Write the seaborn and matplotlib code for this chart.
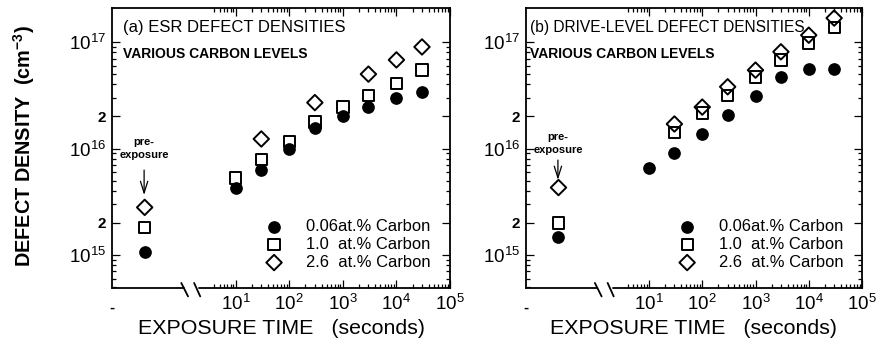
import numpy as np
import pandas as pd
import matplotlib
matplotlib.use("Agg")
import matplotlib.pyplot as plt
import seaborn as sns
from matplotlib.ticker import FixedLocator, NullFormatter

# ---------------- data ----------------
times = [10, 30, 100, 300, 1000, 3000, 10000, 30000]

# panel (a) ESR defect densities (cm^-3); None = not plotted
esr_c006 = [4.3e15, 6.3e15, 1.0e16, 1.55e16, 2.0e16, 2.45e16, 2.97e16, 3.4e16]
esr_c10 = [5.3e15, 7.9e15, 1.17e16, 1.78e16, 2.45e16, 3.17e16, 4.1e16, 5.45e16]
esr_c26 = [None, 1.23e16, None, 2.7e16, None, 5.0e16, 6.8e16, 9.0e16]
esr_pre = [1.07e15, 1.8e15, 2.8e15]   # 0.06, 1.0, 2.6 at.%

# panel (b) drive-level defect densities
drv_c006 = [6.6e15, 9.1e15, 1.37e16, 2.06e16, 3.1e16, 4.7e16, 5.6e16, 5.6e16]
drv_c10 = [None, 1.42e16, 2.15e16, 3.17e16, 4.7e16, 6.8e16, 9.8e16, 1.38e17]
drv_c26 = [None, 1.7e16, 2.45e16, 3.8e16, 5.45e16, 8.1e16, 1.16e17, 1.68e17]
drv_pre = [1.47e15, 2.0e15, 4.3e15]

series_labels = ["0.06at.% Carbon", "1.0  at.% Carbon", "2.6  at.% Carbon"]
panel_titles = ["(a) ESR DEFECT DENSITIES", "(b) DRIVE-LEVEL DEFECT DENSITIES"]
subtitle = "VARIOUS CARBON LEVELS"
xtick_vals = [1e1, 1e2, 1e3, 1e4, 1e5]
xtick_labels = ["$10^{1}$", "$10^{2}$", "$10^{3}$", "$10^{4}$", "$10^{5}$"]
ytick_vals = [1e15, 2e15, 1e16, 2e16, 1e17]
ytick_labels = ["$10^{15}$", "2", "$10^{16}$", "2", "$10^{17}$"]

# ---------------- style ----------------
sns.set_theme(style="ticks")
plt.rcParams["font.family"] = ["Liberation Sans", "DejaVu Sans"]
plt.rcParams["mathtext.fontset"] = "custom"
plt.rcParams["mathtext.rm"] = "Liberation Sans"
plt.rcParams["mathtext.it"] = "Liberation Sans"
plt.rcParams["mathtext.bf"] = "Liberation Sans:bold"
for k in ("text.color", "axes.labelcolor", "xtick.color", "ytick.color",
          "axes.edgecolor"):
    plt.rcParams[k] = "black"

W, H = 879, 349
fig = plt.figure(figsize=(W / 100, H / 100), dpi=100)

PRE_X = 10 ** -0.7            # layout position of the pre-exposure column
XLIM = (10 ** -1.31, 1e5)
YLIM = (10 ** 14.69, 10 ** 17.32)

def px_axes(l, r, t, b):
    return fig.add_axes([l / W, 1 - b / H, (r - l) / W, (b - t) / H])

axes = [px_axes(112, 450, 8, 288), px_axes(526, 862, 8, 288)]

panels = [
    (esr_c006, esr_c10, esr_c26, esr_pre),
    (drv_c006, drv_c10, drv_c26, drv_pre),
]

styles = [
    dict(marker="o", s=66, facecolor="black", edgecolor="black", linewidth=1.0),
    dict(marker="s", s=66, facecolor="none", edgecolor="black", linewidth=1.4),
    dict(marker="D", s=62, facecolor="none", edgecolor="black", linewidth=1.4),
]

# per-panel annotation layout (axes fractions)
pre_text_y = [(0.521, 0.475), (0.539, 0.493)]
arrow_y = [(0.421, 0.332), (0.457, 0.386)]
title_x = [0.033, 0.012]
title_size = [12, 11.2]

for i, (ax, data) in enumerate(zip(axes, panels)):
    c006, c10, c26, pre = data
    for j, (vals, st, lab) in enumerate(zip((c006, c10, c26), styles, series_labels)):
        df = pd.DataFrame({"t": times, "n": vals}).dropna()
        df = pd.concat([pd.DataFrame({"t": [PRE_X], "n": [pre[j]]}), df])
        sns.scatterplot(data=df, x="t", y="n", ax=ax, label=lab, zorder=3,
                        legend=True, **st)
    ax.set_xscale("log")
    ax.set_yscale("log")
    ax.set_xlim(*XLIM)
    ax.set_ylim(*YLIM)

    # y ticks
    ax.yaxis.set_major_locator(FixedLocator(ytick_vals))
    ax.set_yticklabels(ytick_labels)
    ymin = [k * 10 ** e for e in (14, 15, 16) for k in range(2, 10)]
    ymin = [v for v in ymin if v not in ytick_vals]
    ax.yaxis.set_minor_locator(FixedLocator(ymin))
    ax.yaxis.set_minor_formatter(NullFormatter())

    # x ticks
    ax.xaxis.set_major_locator(FixedLocator(xtick_vals))
    ax.set_xticklabels(xtick_labels)
    xmin = [k * 10 ** e for e in (0, 1, 2, 3, 4) for k in range(2, 10)]
    xmin = [v for v in xmin if v >= 4]
    ax.xaxis.set_minor_locator(FixedLocator(xmin))
    ax.xaxis.set_minor_formatter(NullFormatter())

    ax.tick_params(which="both", direction="in", top=True, right=True,
                   colors="black", labelsize=13.5, width=0.9)
    ax.tick_params(which="major", length=6)
    ax.tick_params(which="minor", length=3.2)
    ax.tick_params(axis="y", pad=4)
    ax.tick_params(axis="x", pad=4)
    for t in ax.get_yticklabels():
        if t.get_text() == "2":
            t.set_fontweight("bold")
            t.set_fontsize(11)

    for sp in ("left", "right", "top"):
        ax.spines[sp].set_linewidth(1.3)
        ax.spines[sp].set_color("black")
    ax.spines["bottom"].set_visible(False)
    # broken bottom axis
    kw = dict(transform=ax.transAxes, clip_on=False, color="black", lw=1.3)
    ax.plot([0, 0.212], [0, 0], **kw)
    ax.plot([0.258, 1], [0, 0], **kw)
    ax.plot([0.205, 0.225], [0.018, -0.03], **kw)
    ax.plot([0.243, 0.261], [0.018, -0.03], **kw)
    ax.text(0.0, -0.045, "-", transform=ax.transAxes, ha="center", va="top",
            fontsize=11, fontweight="bold")

    ax.set_xlabel("EXPOSURE TIME   (seconds)", fontsize=15.4, labelpad=3.5,
                  color="black")
    ax.set_ylabel("")

    ax.text(title_x[i], 0.93, panel_titles[i], transform=ax.transAxes,
            fontsize=title_size[i], ha="left", va="center")
    ax.text(title_x[i], 0.836, subtitle, transform=ax.transAxes, fontsize=10,
            fontweight="bold", ha="left", va="center")

    # pre-exposure annotation
    ptx = 0.095
    ax.text(ptx, pre_text_y[i][0], "pre-", transform=ax.transAxes, fontsize=8,
            fontweight="bold", ha="center", va="center")
    ax.text(ptx, pre_text_y[i][1], "exposure", transform=ax.transAxes,
            fontsize=8, fontweight="bold", ha="center", va="center")
    ax.annotate("", xy=(ptx, arrow_y[i][1]), xytext=(ptx, arrow_y[i][0]),
                xycoords="axes fraction", textcoords="axes fraction",
                arrowprops=dict(arrowstyle="->,head_width=0.22,head_length=0.7",
                                lw=0.9, color="black", shrinkA=0, shrinkB=0))

    ax.legend(loc="center left", bbox_to_anchor=(0.455, 0.155), frameon=False,
              fontsize=11.9, handlelength=1.0, handletextpad=1.45,
              labelspacing=0.17, borderpad=0, borderaxespad=0,
              scatterpoints=1)

fig.text(0.027, 1 - 146 / H, "DEFECT DENSITY  (cm$^{\\mathbf{-3}}$)",
         rotation=90, ha="center", va="center", fontsize=14.3,
         fontweight="bold")

fig.savefig("out.png", dpi=100)
